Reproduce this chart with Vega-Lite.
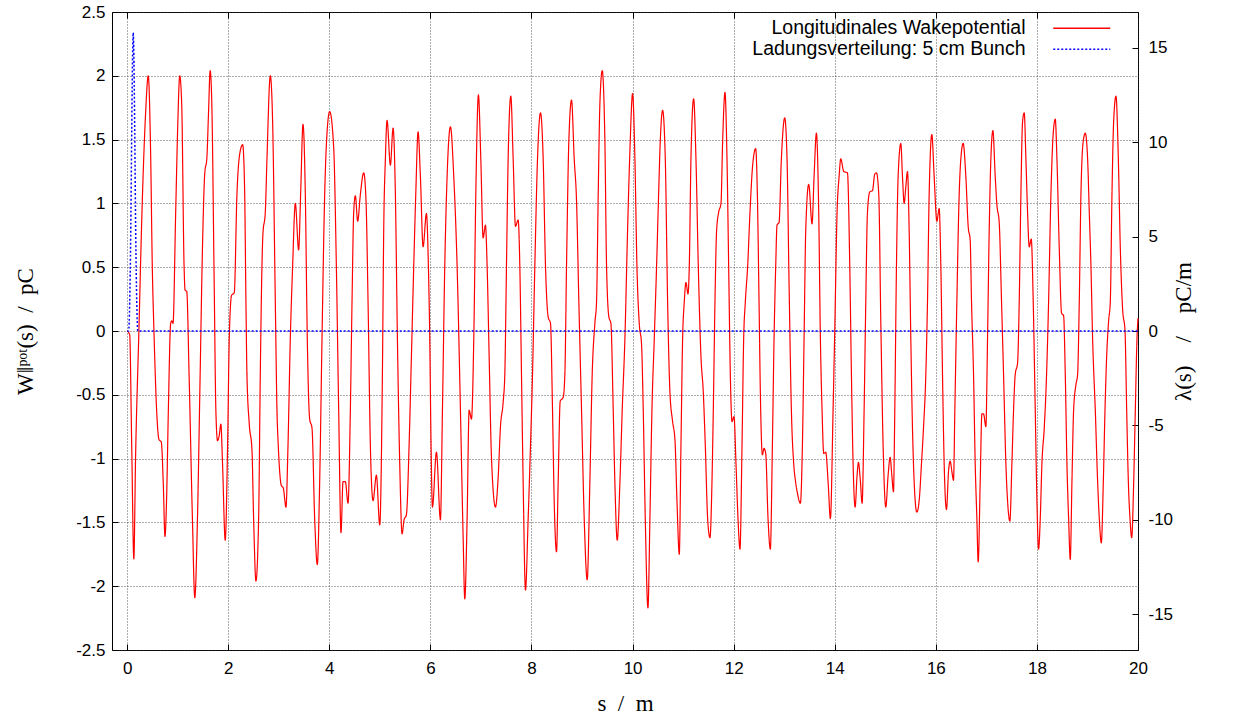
{
"$schema": "https://vega.github.io/schema/vega-lite/v6.json",
"width": 1026, "height": 638,
"autosize": {"type": "none"},
"padding": {"left": 112, "top": 12, "right": 97, "bottom": 70},
"background": "white",
"config": {
  "view": {"stroke": "#000", "strokeWidth": 1},
  "axis": {"labelFont": "Liberation Sans", "labelFontSize": 17, "labelColor": "#000", "tickColor": "#000", "tickSize": -6, "domain": false,
           "gridColor": "#333", "gridDash": [1, 2], "gridOpacity": 0.8, "titleFont": "Liberation Serif", "titleFontSize": 23, "titleFontWeight": "normal", "titleColor": "#000",
           "labelExpr": "datum.value + ''", "labelFlush": false, "labelOverlap": false, "labelBound": false},
  "legend": {"labelFont": "Liberation Sans", "labelFontSize": 19.5, "labelColor": "#000"}
},
"datasets": {
"wake": [
{"s":0,"W":0},{"s":0.05,"W":-0.03},{"s":0.09,"W":-0.9},{"s":0.132,"W":-1.786},{"s":0.166,"W":-1.0},{"s":0.232,"W":0},{"s":0.298,"W":1.0},{"s":0.364,"W":1.7},{"s":0.417,"W":2.0},{"s":0.464,"W":1.4},{"s":0.497,"W":0.51},{"s":0.53,"W":0.0},{"s":0.583,"W":-0.62},{"s":0.629,"W":-0.85},{"s":0.675,"W":-0.87},{"s":0.715,"W":-1.2},{"s":0.748,"W":-1.61},{"s":0.781,"W":-1.3},{"s":0.815,"W":-0.62},{"s":0.861,"W":0.06},{"s":0.881,"W":0.08},{"s":0.907,"W":0.06},{"s":0.96,"W":0.93},{"s":1.0,"W":1.6},{"s":1.04,"W":2.0},{"s":1.079,"W":1.78},{"s":1.126,"W":0.51},{"s":1.146,"W":0.32},{"s":1.179,"W":0.31},{"s":1.225,"W":-0.34},{"s":1.291,"W":-1.47},{"s":1.338,"W":-2.09},{"s":1.391,"W":-1.47},{"s":1.444,"W":-0.34},{"s":1.49,"W":0.65},{"s":1.536,"W":1.24},{"s":1.576,"W":1.35},{"s":1.609,"W":1.7},{"s":1.642,"W":2.04},{"s":1.675,"W":1.78},{"s":1.722,"W":0.37},{"s":1.755,"W":-0.62},{"s":1.788,"W":-0.86},{"s":1.821,"W":-0.82},{"s":1.854,"W":-0.73},{"s":1.887,"W":-1.04},{"s":1.94,"W":-1.64},{"s":1.987,"W":-0.9},{"s":2.02,"W":-0.06},{"s":2.066,"W":0.28},{"s":2.119,"W":0.3},{"s":2.172,"W":1.07},{"s":2.232,"W":1.4},{"s":2.285,"W":1.46},{"s":2.323,"W":1.13},{"s":2.35,"W":0.23},{"s":2.37,"W":-0.34},
{"s":2.416,"W":-0.73},{"s":2.469,"W":-0.93},{"s":2.502,"W":-1.47},{"s":2.548,"W":-1.96},{"s":2.601,"W":-1.47},{"s":2.634,"W":-0.34},{"s":2.667,"W":0.51},{"s":2.686,"W":0.76},{"s":2.733,"W":0.93},{"s":2.766,"W":1.35},{"s":2.832,"W":2.0},{"s":2.878,"W":1.64},{"s":2.931,"W":0.23},{"s":2.964,"W":-0.62},{"s":2.99,"W":-0.9},{"s":3.05,"W":-1.21},{"s":3.089,"W":-1.23},{"s":3.142,"W":-1.38},{"s":3.182,"W":-0.9},{"s":3.228,"W":-0.06},{"s":3.274,"W":0.51},{"s":3.327,"W":1.0},{"s":3.393,"W":0.635},{"s":3.432,"W":1.07},{"s":3.479,"W":1.62},{"s":3.525,"W":1.07},{"s":3.564,"W":-0.06},{"s":3.611,"W":-0.69},{"s":3.657,"W":-0.76},{"s":3.71,"W":-1.47},{"s":3.762,"W":-1.83},{"s":3.809,"W":-1.18},{"s":3.855,"W":-0.06},{"s":3.908,"W":1.07},{"s":3.954,"W":1.55},{"s":4.007,"W":1.72},{"s":4.086,"W":1.44},{"s":4.139,"W":0.51},{"s":4.185,"W":-0.62},{"s":4.231,"W":-1.58},{"s":4.271,"W":-1.18},{"s":4.317,"W":-1.18},{"s":4.37,"W":-1.35},{"s":4.416,"W":-0.62},{"s":4.449,"W":0.23},{"s":4.482,"W":0.93},{"s":4.515,"W":1.06},{"s":4.561,"W":0.86},{"s":4.614,"W":1.07},{"s":4.68,"W":1.24},{"s":4.726,"W":1.02},{"s":4.766,"W":0.23},{"s":4.812,"W":-0.9},{"s":4.865,"W":-1.33},{"s":4.931,"W":-1.13},{"s":4.997,"W":-1.52},
{"s":5.05,"W":-0.34},{"s":5.076,"W":0.79},{"s":5.109,"W":1.35},{"s":5.142,"W":1.65},{"s":5.208,"W":1.3},{"s":5.261,"W":1.59},{"s":5.307,"W":1.07},{"s":5.347,"W":-0.06},{"s":5.393,"W":-1.04},{"s":5.439,"W":-1.59},{"s":5.479,"W":-1.48},{"s":5.525,"W":-1.44},{"s":5.578,"W":-0.9},{"s":5.624,"W":-0.2},{"s":5.67,"W":0.51},{"s":5.71,"W":1.07},{"s":5.756,"W":1.56},{"s":5.802,"W":1.21},{"s":5.855,"W":0.66},{"s":5.921,"W":0.92},{"s":5.96,"W":0.51},{"s":5.987,"W":-0.06},{"s":6.013,"W":-0.9},{"s":6.04,"W":-1.38},{"s":6.119,"W":-0.95},{"s":6.198,"W":-1.48},{"s":6.238,"W":-0.62},{"s":6.284,"W":0.51},{"s":6.33,"W":1.21},{"s":6.396,"W":1.6},{"s":6.462,"W":1.21},{"s":6.528,"W":0.51},{"s":6.594,"W":-0.62},{"s":6.647,"W":-1.61},{"s":6.68,"W":-2.1},{"s":6.726,"W":-1.47},{"s":6.766,"W":-0.62},{"s":6.812,"W":-0.69},{"s":6.858,"W":-0.06},{"s":6.898,"W":1.07},{"s":6.95,"W":1.85},{"s":6.997,"W":1.35},{"s":7.043,"W":0.73},{"s":7.089,"W":0.83},{"s":7.122,"W":0.51},{"s":7.162,"W":-0.2},{"s":7.208,"W":-0.99},{"s":7.287,"W":-1.38},{"s":7.34,"W":-1.15},{"s":7.386,"W":-0.75},{"s":7.439,"W":-0.56},{"s":7.472,"W":-0.34},{"s":7.505,"W":0.51},{"s":7.538,"W":1.35},{"s":7.591,"W":1.84},{"s":7.637,"W":1.35},{"s":7.683,"W":0.82},{"s":7.736,"W":0.87},{"s":7.769,"W":0.51},{"s":7.802,"W":-0.34},{"s":7.835,"W":-1.19},{"s":7.881,"W":-2.03},{"s":7.934,"W":-1.47},{"s":7.98,"W":-0.9},
{"s":8.02,"W":-0.34},{"s":8.066,"W":0.51},{"s":8.119,"W":1.35},{"s":8.178,"W":1.71},{"s":8.231,"W":1.35},{"s":8.277,"W":0.51},{"s":8.33,"W":0.11},{"s":8.376,"W":0.06},{"s":8.416,"W":-0.62},{"s":8.449,"W":-1.33},{"s":8.495,"W":-1.73},{"s":8.528,"W":-1.18},{"s":8.568,"W":-0.55},{"s":8.627,"W":-0.52},{"s":8.66,"W":-0.34},{"s":8.693,"W":0.51},{"s":8.739,"W":1.49},{"s":8.792,"W":1.81},{"s":8.845,"W":1.35},{"s":8.891,"W":1.02},{"s":8.937,"W":0.23},{"s":8.99,"W":-0.62},{"s":9.043,"W":-1.47},{"s":9.102,"W":-1.95},{"s":9.155,"W":-1.18},{"s":9.201,"W":-0.34},{"s":9.254,"W":0.06},{"s":9.287,"W":0.23},{"s":9.32,"W":1.07},{"s":9.353,"W":1.78},{"s":9.399,"W":2.04},{"s":9.452,"W":1.49},{"s":9.485,"W":0.51},{"s":9.531,"W":0.11},{"s":9.571,"W":0.06},{"s":9.617,"W":-0.62},{"s":9.65,"W":-1.19},{"s":9.696,"W":-1.64},{"s":9.749,"W":-1.19},{"s":9.795,"W":-0.62},{"s":9.848,"W":-0.06},{"s":9.901,"W":0.79},{"s":9.947,"W":1.41},
{"s":10.0,"W":1.86},{"s":10.046,"W":1.35},{"s":10.086,"W":0.51},{"s":10.132,"W":0.06},{"s":10.178,"W":-0.11},{"s":10.211,"W":-0.62},{"s":10.251,"W":-1.47},{"s":10.304,"W":-2.17},{"s":10.343,"W":-1.47},{"s":10.383,"W":-0.62},{"s":10.429,"W":-0.06},{"s":10.475,"W":0.51},{"s":10.515,"W":1.07},{"s":10.548,"W":1.49},{"s":10.594,"W":1.73},{"s":10.647,"W":1.35},{"s":10.693,"W":0.23},{"s":10.739,"W":-0.48},{"s":10.792,"W":-0.71},{"s":10.838,"W":-0.85},{"s":10.878,"W":-1.33},{"s":10.924,"W":-1.75},{"s":10.957,"W":-0.9},{"s":10.99,"W":-0.06},{"s":11.023,"W":0.23},{"s":11.056,"W":0.38},{"s":11.096,"W":0.29},{"s":11.122,"W":0.51},{"s":11.155,"W":1.35},{"s":11.208,"W":1.82},{"s":11.254,"W":1.35},{"s":11.3,"W":0.51},{"s":11.353,"W":-0.2},{"s":11.399,"W":-0.48},{"s":11.439,"W":-0.9},{"s":11.485,"W":-1.47},{"s":11.531,"W":-1.62},{"s":11.571,"W":-1.18},{"s":11.597,"W":-0.62},{"s":11.63,"W":0.23},{"s":11.663,"W":0.79},{"s":11.703,"W":0.93},{"s":11.749,"W":1.0},{"s":11.782,"W":1.49},{"s":11.828,"W":1.87},{"s":11.868,"W":1.35},{"s":11.901,"W":0.51},{"s":11.934,"W":-0.34},{"s":11.967,"W":-0.71},{"s":12.007,"W":-0.67},{"s":12.046,"W":-1.04},{"s":12.086,"W":-1.47},{"s":12.125,"W":-1.71},{"s":12.165,"W":-0.9},{"s":12.198,"W":-0.06},{"s":12.231,"W":0.23},{"s":12.277,"W":0.51},{"s":12.323,"W":0.93},{"s":12.376,"W":1.3},{"s":12.436,"W":1.43},{"s":12.469,"W":1.07},{"s":12.502,"W":0.23},{"s":12.528,"W":-0.48},{"s":12.568,"W":-0.97},{"s":12.601,"W":-0.92},{"s":12.634,"W":-0.96},{"s":12.68,"W":-1.47},{"s":12.726,"W":-1.71},{"s":12.766,"W":-0.9},{"s":12.799,"W":-0.06},{"s":12.832,"W":0.51},{"s":12.858,"W":0.83},{"s":12.898,"W":0.85},{"s":12.944,"W":1.35},
{"s":13.01,"W":1.67},{"s":13.056,"W":1.35},{"s":13.096,"W":0.37},{"s":13.142,"W":-0.62},{"s":13.188,"W":-1.04},{"s":13.221,"W":-1.17},{"s":13.261,"W":-1.27},{"s":13.32,"W":-1.35},{"s":13.36,"W":-0.9},{"s":13.393,"W":-0.06},{"s":13.426,"W":0.79},{"s":13.485,"W":1.15},{"s":13.551,"W":0.84},{"s":13.591,"W":1.21},{"s":13.637,"W":1.55},{"s":13.683,"W":0.93},{"s":13.716,"W":-0.06},{"s":13.749,"W":-0.62},{"s":13.782,"W":-0.96},{"s":13.822,"W":-0.95},{"s":13.868,"W":-1.18},{"s":13.914,"W":-1.47},{"s":13.967,"W":-0.62},{"s":14.0,"W":0.0},{"s":14.046,"W":0.93},{"s":14.086,"W":1.21},{"s":14.119,"W":1.35},{"s":14.178,"W":1.25},{"s":14.251,"W":1.24},{"s":14.297,"W":0.51},{"s":14.33,"W":-0.34},{"s":14.363,"W":-1.04},{"s":14.403,"W":-1.38},{"s":14.442,"W":-1.13},{"s":14.469,"W":-1.03},{"s":14.508,"W":-1.18},{"s":14.541,"W":-1.35},{"s":14.581,"W":-0.62},{"s":14.614,"W":0.23},{"s":14.647,"W":0.93},{"s":14.693,"W":1.09},{"s":14.746,"W":1.1},{"s":14.792,"W":1.23},{"s":14.825,"W":1.24},{"s":14.871,"W":1.07},{"s":14.911,"W":0.08},{"s":14.957,"W":-0.9},
{"s":15.01,"W":-1.38},{"s":15.056,"W":-1.13},{"s":15.096,"W":-0.99},{"s":15.129,"W":-1.13},{"s":15.162,"W":-1.26},{"s":15.188,"W":-0.62},{"s":15.221,"W":0.51},{"s":15.254,"W":1.21},{"s":15.307,"W":1.47},{"s":15.34,"W":1.21},{"s":15.373,"W":1.0},{"s":15.406,"W":1.13},{"s":15.439,"W":1.25},{"s":15.472,"W":0.79},{"s":15.505,"W":-0.06},{"s":15.538,"W":-0.76},{"s":15.571,"W":-1.18},{"s":15.624,"W":-1.42},{"s":15.67,"W":-1.33},{"s":15.716,"W":-1.04},{"s":15.756,"W":-0.76},{"s":15.802,"W":-0.34},{"s":15.835,"W":0.23},{"s":15.868,"W":1.07},{"s":15.921,"W":1.54},{"s":15.967,"W":1.21},{"s":16.02,"W":0.86},{"s":16.066,"W":0.96},{"s":16.099,"W":0.51},{"s":16.132,"W":-0.34},{"s":16.165,"W":-1.04},{"s":16.211,"W":-1.4},{"s":16.251,"W":-1.1},{"s":16.284,"W":-1.02},{"s":16.317,"W":-1.1},{"s":16.35,"W":-1.17},{"s":16.376,"W":-0.62},{"s":16.416,"W":0.23},{"s":16.462,"W":1.07},{"s":16.495,"W":1.35},{"s":16.541,"W":1.47},{"s":16.594,"W":1.21},{"s":16.64,"W":0.82},{"s":16.68,"W":0.71},{"s":16.706,"W":0.23},{"s":16.746,"W":-0.34},{"s":16.779,"W":-1.04},{"s":16.812,"W":-1.47},{"s":16.838,"W":-1.81},{"s":16.878,"W":-1.18},{"s":16.911,"W":-0.65},{"s":16.944,"W":-0.65},{"s":16.99,"W":-0.75},
{"s":17.023,"W":-0.06},{"s":17.056,"W":0.79},{"s":17.089,"W":1.35},{"s":17.129,"W":1.57},{"s":17.175,"W":1.21},{"s":17.208,"W":0.99},{"s":17.254,"W":0.85},{"s":17.3,"W":0.23},{"s":17.34,"W":-0.34},{"s":17.386,"W":-1.04},{"s":17.419,"W":-1.33},{"s":17.465,"W":-1.49},{"s":17.505,"W":-1.04},{"s":17.538,"W":-0.62},{"s":17.571,"W":-0.34},{"s":17.617,"W":-0.25},{"s":17.65,"W":0.23},{"s":17.683,"W":1.07},{"s":17.716,"W":1.64},{"s":17.749,"W":1.71},{"s":17.782,"W":1.35},{"s":17.815,"W":0.93},{"s":17.848,"W":0.66},{"s":17.888,"W":0.72},{"s":17.927,"W":0.23},{"s":17.967,"W":-0.62},{"s":18.0,"W":-1.33},{"s":18.033,"W":-1.71},{"s":18.066,"W":-1.47},{"s":18.099,"W":-1.04},{"s":18.145,"W":-0.76},{"s":18.191,"W":-0.34},{"s":18.231,"W":0.23},{"s":18.277,"W":1.07},{"s":18.323,"W":1.55},{"s":18.363,"W":1.66},{"s":18.396,"W":1.35},{"s":18.442,"W":0.65},{"s":18.488,"W":0.14},{"s":18.528,"W":0.12},{"s":18.561,"W":-0.34},{"s":18.594,"W":-1.04},{"s":18.627,"W":-1.47},{"s":18.66,"W":-1.79},{"s":18.693,"W":-1.18},{"s":18.726,"W":-0.62},{"s":18.772,"W":-0.42},{"s":18.805,"W":-0.34},{"s":18.838,"W":0.23},{"s":18.871,"W":1.07},{"s":18.917,"W":1.49},{"s":18.957,"W":1.55},
{"s":19.003,"W":1.35},{"s":19.036,"W":0.93},{"s":19.069,"W":0.51},{"s":19.102,"W":-0.06},{"s":19.155,"W":-0.62},{"s":19.201,"W":-1.18},{"s":19.234,"W":-1.47},{"s":19.274,"W":-1.66},{"s":19.314,"W":-1.18},{"s":19.347,"W":-0.62},{"s":19.38,"W":-0.2},{"s":19.419,"W":0.08},{"s":19.452,"W":0.23},{"s":19.485,"W":1.07},{"s":19.518,"W":1.64},{"s":19.564,"W":1.84},{"s":19.611,"W":1.35},{"s":19.65,"W":0.65},{"s":19.696,"W":0.17},{"s":19.743,"W":0.0},{"s":19.776,"W":-0.62},{"s":19.809,"W":-1.18},{"s":19.842,"W":-1.47},{"s":19.875,"W":-1.62},{"s":19.915,"W":-1.18},{"s":19.947,"W":-0.62},{"s":19.98,"W":-0.06},{"s":20.0,"W":0.1}
],
"bunch": [
{"s":0,"lam":0},{"s":0.03,"lam":0},{"s":0.05,"lam":1.5},{"s":0.07,"lam":5},{"s":0.09,"lam":10.5},{"s":0.11,"lam":15},{"s":0.12,"lam":15.8},{"s":0.13,"lam":15},{"s":0.15,"lam":10.5},{"s":0.17,"lam":5},{"s":0.19,"lam":1.5},{"s":0.21,"lam":0},{"s":20,"lam":0}
]
},
"layer": [
{
 "data": {"name": "wake"},
 "mark": {"type": "line", "interpolate": "monotone", "strokeWidth": 1.2},
 "encoding": {
  "x": {"field": "s", "type": "quantitative", "scale": {"domain": [-0.3, 20], "nice": false, "zero": false},
        "axis": {"orient": "bottom", "values": [0,2,4,6,8,10,12,14,16,18,20], "grid": true, "title": "s\u2002/\u2002m", "titleX": 513, "titleY": 53, "titleBaseline": "middle", "labelPadding": 16}},
  "y": {"field": "W", "type": "quantitative", "scale": {"domain": [-2.5, 2.5], "nice": false, "zero": false},
        "axis": {"orient": "left", "values": [-2.5,-2,-1.5,-1,-0.5,0,0.5,1,1.5,2,2.5], "grid": true, "title": "W‖ᵖᵒᵗ(s)\u2002/\u2002pC", "titleAngle": -90, "titleX": -87, "titleY": 319, "titleAlign": "center", "titleBaseline": "middle", "labelPadding": 13}},
  "color": {"datum": "Longitudinales Wakepotential", "type": "nominal",
            "scale": {"domain": ["Longitudinales Wakepotential", "Ladungsverteilung: 5 cm Bunch"], "range": ["#ff0000", "#0000ff"]},
            "legend": {"orient": "none", "legendX": 960, "legendY": 6.5, "title": null, "symbolType": "M-4,0H4", "symbolSize": 203, "symbolStrokeWidth": 1.5, "labelAlign": "right", "labelOffset": -66, "labelLimit": 0, "rowPadding": 0, "padding": 0}},
  "strokeDash": {"datum": "Longitudinales Wakepotential", "type": "nominal",
            "scale": {"domain": ["Longitudinales Wakepotential", "Ladungsverteilung: 5 cm Bunch"], "range": [[1, 0], [2, 2]]},
            "legend": {"orient": "none", "legendX": 960, "legendY": 6.5, "title": null, "symbolType": "M-4,0H4", "symbolSize": 203, "symbolStrokeWidth": 1.5, "labelAlign": "right", "labelOffset": -66, "labelLimit": 0, "rowPadding": 0, "padding": 0}}
 }
},
{
 "data": {"name": "bunch"},
 "mark": {"type": "line", "interpolate": "monotone", "strokeWidth": 1.5},
 "encoding": {
  "x": {"field": "s", "type": "quantitative", "axis": {"orient": "top", "values": [0,2,4,6,8,10,12,14,16,18,20], "labels": false, "grid": false, "title": null}},
  "y": {"field": "lam", "type": "quantitative", "scale": {"domain": [-16.9, 16.9], "nice": false, "zero": false},
        "axis": {"orient": "right", "values": [-15,-10,-5,0,5,10,15], "grid": false, "title": "λ(s)\u2003/\u2003pC/m", "titleAngle": -90, "titleX": 45, "titleY": 319, "titleAlign": "center", "titleBaseline": "middle", "labelPadding": 16}},
  "color": {"datum": "Ladungsverteilung: 5 cm Bunch", "type": "nominal"},
  "strokeDash": {"datum": "Ladungsverteilung: 5 cm Bunch", "type": "nominal"}
 }
}
],
"resolve": {"scale": {"y": "independent"}, "axis": {"x": "independent"}}
}
